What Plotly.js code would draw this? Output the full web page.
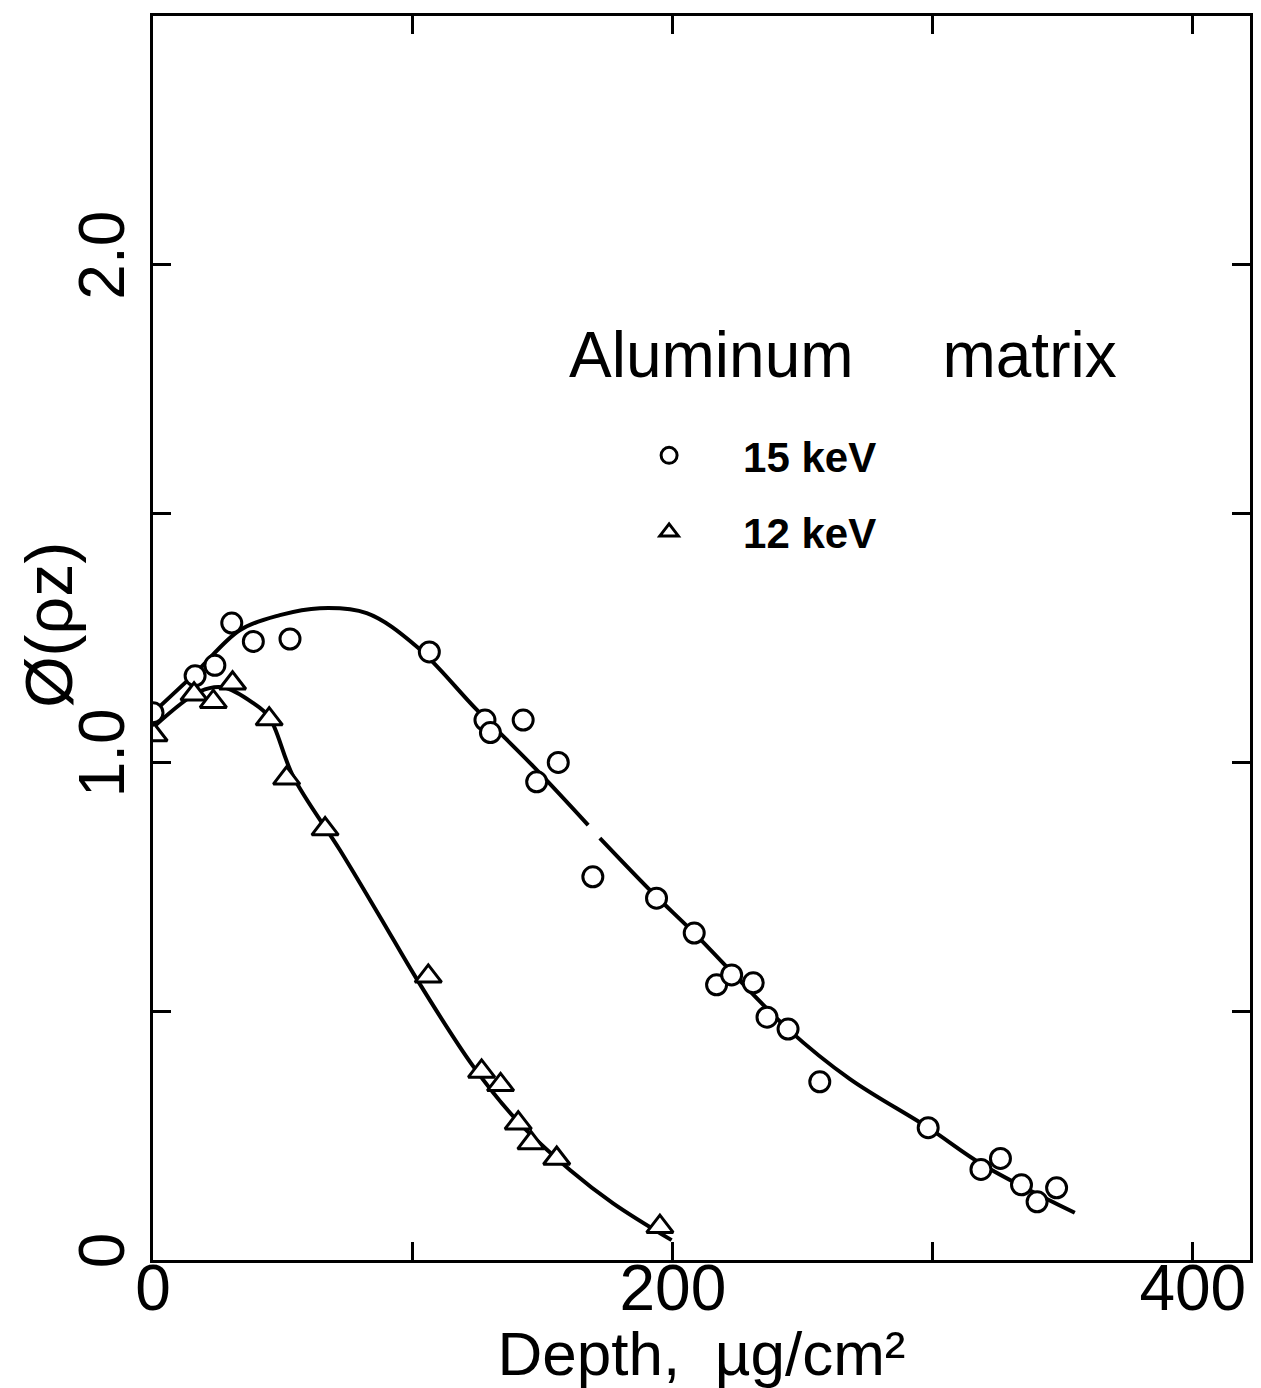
<!DOCTYPE html>
<html>
<head>
<meta charset="utf-8">
<script src="https://cdn.plot.ly/plotly-3.0.1.min.js"></script>
<style>html,body{margin:0;padding:0;background:#fff;}#chart{width:1261px;height:1388px;}</style>
</head>
<body>
<div id="chart"></div>
<script>
// 15 keV measured points (circles)
const depth15 = [0, 16.2, 23.8, 30.3, 38.6, 52.7, 106.3, 127.7, 129.8, 142.4, 147.6, 155.9, 169.2, 193.7, 208.2, 216.8, 222.6, 230.9, 236.2, 244.3, 256.5, 298.2, 318.5, 326.0, 334.1, 340.1, 347.6];
const phi15   = [1.10, 1.174, 1.195, 1.280, 1.243, 1.248, 1.222, 1.085, 1.060, 1.085, 0.961, 1.000, 0.770, 0.727, 0.657, 0.553, 0.573, 0.557, 0.488, 0.464, 0.358, 0.266, 0.182, 0.204, 0.151, 0.117, 0.145];

// 12 keV measured points (triangles)
const depth12 = [0.4, 15.8, 23.2, 30.6, 44.7, 51.4, 66.2, 105.9, 126.4, 133.7, 140.5, 145.4, 155.3, 195.0];
const phi12   = [1.055, 1.137, 1.122, 1.159, 1.087, 0.968, 0.866, 0.570, 0.379, 0.352, 0.275, 0.235, 0.204, 0.067];

// Drawn curves (null = break in the drawn line)
const curve15x = [0, 16.2, 33.5, 48.8, 64.2, 82.2, 101.4, 124.5, 146.3, 167.4, null, 171.9, 192.4, 208.2, 244.3, 268.0, 298.2, 319.3, 354.6];
const curve15y = [1.10, 1.179, 1.266, 1.296, 1.310, 1.300, 1.233, 1.106, 0.992, 0.874, null, 0.848, 0.737, 0.657, 0.464, 0.364, 0.266, 0.191, 0.095];
const curve12x = [0, 18.1, 27.0, 38.6, 44.7, 54.0, 71.9, 87.3, 102.0, 123.2, 139.9, 160.4, 177.0, 199.5];
const curve12y = [1.07, 1.143, 1.151, 1.119, 1.091, 0.971, 0.824, 0.690, 0.560, 0.389, 0.281, 0.181, 0.114, 0.040];

// Axis ticks
const xTickVals = [0, 100, 200, 300, 400];
const xTickText = ['0', '', '200', '', '400'];
const yTickVals = [0, 0.5, 1.0, 1.5, 2.0];
const yTickText = ['0', '', '1.0', '', '2.0'];

const seriesNames = ['15 keV', '12 keV'];

const FONT = 'Liberation Sans, Arial, Helvetica, sans-serif';

const traces = [
  {x: curve15x, y: curve15y, mode: 'lines', line: {color: '#000', width: 4, shape: 'spline', smoothing: 1}, connectgaps: false, showlegend: false, hoverinfo: 'skip'},
  {x: curve12x, y: curve12y, mode: 'lines', line: {color: '#000', width: 4, shape: 'spline', smoothing: 1}, showlegend: false, hoverinfo: 'skip'},
  {x: depth15, y: phi15, mode: 'markers', name: seriesNames[0], legendgroup: 'a',
   marker: {symbol: 'circle', size: 20, color: '#fff', line: {color: '#000', width: 3}}},
  {x: depth12, y: phi12, mode: 'markers', name: seriesNames[1], legendgroup: 'b',
   marker: {symbol: 'triangle-up', size: 23, color: '#fff', line: {color: '#000', width: 3}}}
];

const layout = {
  width: 1261, height: 1388,
  margin: {l: 153, r: 11, t: 16, b: 128, pad: 0},
  paper_bgcolor: '#fff', plot_bgcolor: '#fff',
  font: {family: FONT, color: '#000'},
  showlegend: true,
  legend: {
    x: 0.403, y: 0.674, xanchor: 'left', yanchor: 'top',
    bgcolor: 'rgba(0,0,0,0)', borderwidth: 0,
    font: {family: FONT, size: 42, color: '#000', weight: 'bold'},
    traceorder: 'grouped', tracegroupgap: 19, itemwidth: 138
  },
  xaxis: {
    range: [0, 422], showgrid: false, zeroline: false,
    showline: true, linewidth: 3, linecolor: '#000', mirror: 'ticks',
    ticks: 'inside', ticklen: 18, tickwidth: 3, tickcolor: '#000',
    tickmode: 'array', tickvals: xTickVals, ticktext: xTickText,
    tickfont: {family: FONT, size: 64, color: '#000'},
    ticklabelstandoff: -30,
    title: {text: 'Depth,\u00a0\u00a0\u00b5g/cm\u00b2', font: {family: FONT, size: 62, color: '#000'}, standoff: 6}
  },
  yaxis: {
    range: [0, 2.5], showgrid: false, zeroline: false,
    showline: true, linewidth: 3, linecolor: '#000', mirror: 'ticks',
    ticks: 'inside', ticklen: 18, tickwidth: 3, tickcolor: '#000',
    tickmode: 'array', tickvals: yTickVals, ticktext: yTickText,
    tickangle: -90,
    tickfont: {family: FONT, size: 64, color: '#000'},
    ticklabelstandoff: 0
  },
  annotations: [
    {xref: 'paper', yref: 'paper', x: 0.3774, y: 0.7275, xanchor: 'left', yanchor: 'middle',
     text: 'Aluminum\u00a0\u00a0\u00a0\u00a0\u00a0matrix', showarrow: false,
     font: {family: FONT, size: 64, color: '#000'}},
    {xref: 'paper', yref: 'paper', x: -0.095, y: 0.5105, xanchor: 'center', yanchor: 'middle',
     text: '\u00d8(\u03c1z)', textangle: -90, showarrow: false,
     font: {family: FONT, size: 66, color: '#000'}}
  ]
};

Plotly.newPlot('chart', traces, layout, {displayModeBar: false, staticPlot: true});
</script>
</body>
</html>
